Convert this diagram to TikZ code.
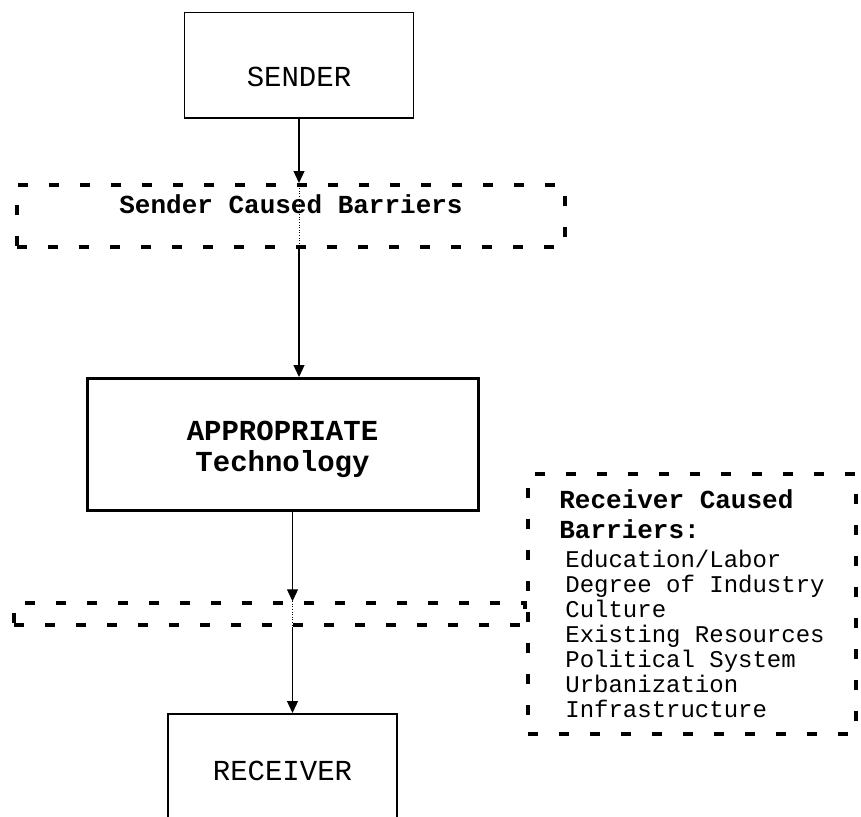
\documentclass[tikz,border=0pt]{standalone}
\usepackage{fontspec}
\setmainfont{Liberation Mono}
\usetikzlibrary{arrows.meta}

\tikzset{
  plainbox/.style={draw, line width=1.5pt, inner sep=0pt},
  barrierbox/.style={draw, line width=3.5pt, dash pattern=on 10pt off 21pt, inner sep=0pt},
  flow/.style={-{Triangle[length=12pt,width=11pt]}, line width=1.2pt},
}

\begin{document}
\begin{tikzpicture}[x=1pt,y=-1pt]
\useasboundingbox (0,0) rectangle (861,816);
\node[plainbox, minimum width=229pt, text height=74pt, text depth=31pt, font=\fontsize{29}{31}\selectfont, anchor=north] (sender) at (299,12) {SENDER};
\node[barrierbox, minimum width=548pt, text height=29pt, text depth=33pt, font=\bfseries\fontsize{26}{28}\selectfont, anchor=north] (sbar) at (291,183) {Sender Caused Barriers};
\node[plainbox, line width=3pt, minimum width=391pt, text height=93pt, text depth=39pt, align=center, font=\bfseries\fontsize{29}{31}\selectfont, anchor=north] (tech) at (282.5,377) {APPROPRIATE\\Technology};
\node[barrierbox, minimum width=511pt, minimum height=22pt] (rbar) at (269.5,614) {};
\node[barrierbox, minimum width=328pt, minimum height=260pt, align=left, font=\fontsize{24}{25}\selectfont] (rcause) at (692,604)
  {{\bfseries\fontsize{26}{28}\selectfont Receiver Caused}\\[5pt]
   {\bfseries\fontsize{26}{28}\selectfont Barriers:}\\[4pt]
   \hspace*{6pt}Education/Labor\\
   \hspace*{6pt}Degree of Industry\\
   \hspace*{6pt}Culture\\
   \hspace*{6pt}Existing Resources\\
   \hspace*{6pt}Political System\\
   \hspace*{6pt}Urbanization\\
   \hspace*{6pt}Infrastructure};
\node[plainbox, minimum width=229pt, text height=67pt, text depth=50pt, font=\fontsize{29}{31}\selectfont, anchor=north] (receiver) at (282.5,713) {RECEIVER};
% arrows down the middle
\draw[flow] (sender) -- (sender |- sbar.north);
\draw[dotted, line width=0.6pt] (sender |- sbar.north) -- (sender |- sbar.south);
\draw[flow] (sender |- sbar.south) -- (sender |- tech.north);
\draw[flow] ([xshift=10pt]tech.south) -- ([xshift=10pt]tech.south |- rbar.north);
\draw[dotted, line width=0.6pt] ([xshift=10pt]tech.south |- rbar.north) -- ([xshift=10pt]tech.south |- rbar.south);
\draw[flow] ([xshift=10pt]tech.south |- rbar.south) -- ([xshift=10pt]tech.south |- receiver.north);
\end{tikzpicture}
\end{document}
